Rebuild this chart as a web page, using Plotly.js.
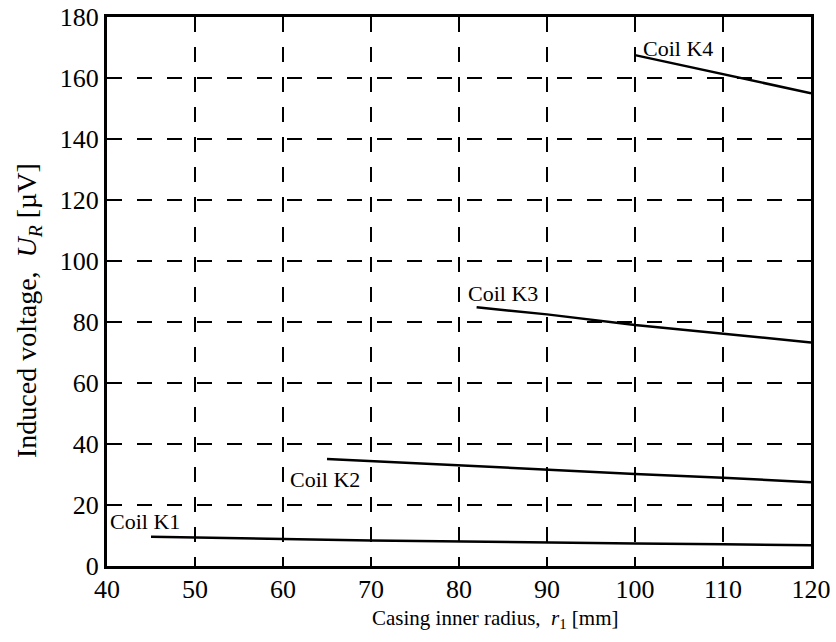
<!DOCTYPE html>
<html>
<head>
<meta charset="utf-8">
<script src="https://cdn.plot.ly/plotly-3.0.1.min.js"></script>
<style>html,body{margin:0;padding:0;background:#fff;}#chart{width:836px;height:642px;}</style>
</head>
<body>
<div id="chart"></div>
<script>
// Casing inner radius r1 [mm] and induced voltage U_R [µV] for each coil
const k1_r = [45, 50, 60, 70, 80, 90, 100, 110, 120];
const k1_u = [9.6, 9.3, 8.85, 8.4, 8.0, 7.7, 7.4, 7.1, 6.8];
const k2_r = [65, 70, 80, 90, 100, 110, 120];
const k2_u = [35.1, 34.4, 32.8, 31.4, 30.2, 28.9, 27.5];
const k3_r = [82, 90, 100, 110, 120];
const k3_u = [84.8, 82.5, 79.0, 76.1, 73.3];
const k4_r = [100, 110, 120];
const k4_u = [167.5, 161.3, 155.0];

const labels = ["Coil K1", "Coil K2", "Coil K3", "Coil K4"];
const label_r = [44.3, 64.8, 85.0, 104.9];
const label_u = [14.6, 28.4, 89.5, 169.7];

const xTitle = "Casing inner radius,  <i>r</i><sub>1</sub> [mm]";
const yTitle = "Induced voltage,  <i>U</i><sub><i>R</i></sub> [µV]";

const FONT = "'Liberation Serif', 'Times New Roman', Times, serif";
const line = {color: "black", width: 2.5};

const traces = [
  {x: k1_r, y: k1_u, mode: "lines", line: line, name: labels[0]},
  {x: k2_r, y: k2_u, mode: "lines", line: line, name: labels[1]},
  {x: k3_r, y: k3_u, mode: "lines", line: line, name: labels[2]},
  {x: k4_r, y: k4_u, mode: "lines", line: line, name: labels[3]}
];

const annotations = labels.map((t, i) => ({
  x: label_r[i], y: label_u[i], xref: "x", yref: "y", text: t, showarrow: false,
  xanchor: "center", yanchor: "middle", font: {family: FONT, size: 22, color: "black"}
}));
annotations.push({
  xref: "paper", yref: "paper", x: (370 - 107) / 704, y: (566 - 604) / 549,
  xanchor: "left", yanchor: "top", text: xTitle, showarrow: false,
  font: {family: FONT, size: 21, color: "black"}
});
annotations.push({
  xref: "paper", yref: "paper", x: (29 - 107) / 704, y: (566 - 311) / 549,
  xanchor: "center", yanchor: "middle", textangle: -90, text: yTitle, showarrow: false,
  font: {family: FONT, size: 28, color: "black"}
});

const axisCommon = {
  showline: true, linecolor: "black", linewidth: 3, mirror: "ticks",
  ticks: "inside", ticklen: 7, tickwidth: 2, tickcolor: "black",
  showgrid: true, gridcolor: "black", gridwidth: 1.5, griddash: "15px,15px",
  zeroline: false, tickfont: {family: FONT, size: 26, color: "black"}
};

const layout = {
  width: 836, height: 642,
  margin: {l: 107, r: 25, t: 17, b: 76},
  paper_bgcolor: "white", plot_bgcolor: "white",
  showlegend: false,
  font: {family: FONT, color: "black"},
  xaxis: Object.assign({}, axisCommon, {range: [40, 120], dtick: 10, tick0: 40, ticklabelstandoff: -2}),
  yaxis: Object.assign({}, axisCommon, {range: [0, 180], dtick: 20, tick0: 0}),
  annotations: annotations
};

Plotly.newPlot("chart", traces, layout, {staticPlot: true});
</script>
</body>
</html>
